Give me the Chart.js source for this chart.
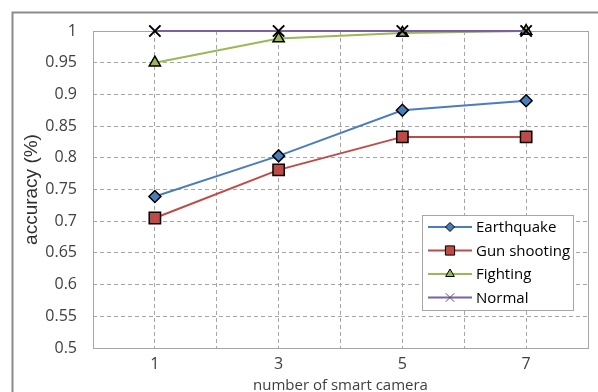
<!DOCTYPE html>
<html>
<head>
<meta charset="utf-8">
<script src="https://cdn.jsdelivr.net/npm/chart.js@4/dist/chart.umd.min.js"></script>
<style>
    html, body { margin: 0; padding: 0; background: #fff; overflow: hidden; }
    #wrap { position: relative; width: 598px; height: 392px; }
</style>
</head>
<body>
<div id="wrap"><canvas id="accuracy-chart"></canvas></div>
<script>
const cameraCounts = [1, 3, 5, 7];
const earthquake = [0.739, 0.803, 0.875, 0.89];
const gunShooting = [0.705, 0.781, 0.833, 0.833];
const fighting = [0.95, 0.988, 0.997, 1.0];
const normal = [1, 1, 1, 1];
const seriesNames = ['Earthquake', 'Gun shooting', 'Fighting', 'Normal'];
const yTickLabels = ['0.5', '0.55', '0.6', '0.65', '0.7', '0.75', '0.8', '0.85', '0.9', '0.95', '1'];

const FONT = "'Open Sans', 'Liberation Sans', sans-serif";

function toPoints(values) {
    return cameraCounts.map((c, i) => ({ x: c, y: values[i] }));
}

function series(label, values, color, style, radius, border, order) {
    return {
        label: label,
        data: toPoints(values),
        borderColor: color,
        borderWidth: 2,
        backgroundColor: color,
        pointStyle: style,
        pointRadius: radius,
        pointHoverRadius: radius,
        pointBackgroundColor: style === 'crossRot' ? '#000' : color,
        pointBorderColor: '#000',
        pointBorderWidth: border,
        tension: 0,
        fill: false,
        clip: false,
        order: order,
    };
}

// outer frame + plot border
const framePlugin = {
    id: 'frame',
    beforeDraw(chart) {
        const ctx = chart.ctx;
        ctx.save();
        ctx.strokeStyle = '#8c8c8c';
        ctx.lineWidth = 2;
        ctx.beginPath();
        ctx.moveTo(12.5, chart.height);
        ctx.lineTo(12.5, 12.5);
        ctx.lineTo(chart.width, 12.5);
        ctx.stroke();
        ctx.restore();
    },
    beforeDatasetsDraw(chart) {
        const a = chart.chartArea;
        const ctx = chart.ctx;
        ctx.save();
        ctx.strokeStyle = '#a6a6a6';
        ctx.lineWidth = 1;
        ctx.strokeRect(Math.round(a.left) + 0.5, Math.round(a.top) + 0.5,
            Math.round(a.right - a.left), Math.round(a.bottom - a.top));
        ctx.restore();
    }
};

// legend box inside the plot, like Excel
const boxLegend = {
    id: 'boxLegend',
    afterDraw(chart) {
        const ctx = chart.ctx;
        const x0 = 422, y0 = 215, w = 151, h = 95;
        ctx.save();
        ctx.fillStyle = '#fff';
        ctx.fillRect(x0, y0, w, h);
        ctx.strokeStyle = '#a6a6a6';
        ctx.lineWidth = 1;
        ctx.strokeRect(x0 + 0.5, y0 + 0.5, w, h);
        const sizes = [4.5, 6.5, 5, 6];
        chart.data.datasets.forEach((ds, i) => {
            const y = y0 + 12 + i * 23.5;
            ctx.strokeStyle = ds.borderColor;
            ctx.lineWidth = 2;
            ctx.beginPath();
            ctx.moveTo(x0 + 6, y);
            ctx.lineTo(x0 + 50, y);
            ctx.stroke();
            ctx.fillStyle = ds.pointBackgroundColor;
            ctx.strokeStyle = ds.pointStyle === 'crossRot' ? '#555' : '#000';
            ctx.lineWidth = 1;
            Chart.helpers.drawPoint(ctx, { pointStyle: ds.pointStyle, radius: sizes[i], rotation: 0, borderWidth: 1 }, x0 + 28, y);
            ctx.fillStyle = '#000';
            ctx.font = '15px ' + FONT;
            ctx.textBaseline = 'middle';
            ctx.textAlign = 'left';
            ctx.fillText(seriesNames[i], x0 + 54, y + 1);
        });
        ctx.restore();
    }
};

const ctx = document.getElementById('accuracy-chart').getContext('2d');

new Chart(ctx, {
    type: 'line',
    data: {
        datasets: [
            series(seriesNames[0], earthquake, '#4a7ebb', 'rectRot', 6, 1.5, 2),
            series(seriesNames[1], gunShooting, '#be4b48', 'rect', 8, 1.5, 2),
            series(seriesNames[2], fighting, '#98b954', 'triangle', 6.5, 1.5, 1),
            series(seriesNames[3], normal, '#7d60a0', 'crossRot', 8, 2, 0),
        ]
    },
    options: {
        responsive: true,
        maintainAspectRatio: false,
        animation: false,
        layout: { padding: { left: 16, top: 31, right: 5, bottom: 0 } },
        plugins: {
            legend: { display: false },
            tooltip: { enabled: false },
        },
        scales: {
            x: {
                type: 'linear',
                min: 0,
                max: 8,
                afterFit(scale) { scale.height = 44; },
                afterBuildTicks(scale) {
                    scale.ticks = [0, 1, 2, 3, 4, 5, 6, 7, 8].map(v => ({ value: v }));
                },
                grid: { color: '#a6a6a6', drawTicks: false },
                border: { display: false, dash: [4, 3] },
                ticks: {
                    color: '#404040',
                    font: { family: FONT, size: 16 },
                    padding: 7,
                    maxRotation: 0,
                    autoSkip: false,
                    callback: (value) => cameraCounts.includes(value) ? String(value) : '',
                },
                title: {
                    display: true,
                    text: 'number of smart camera',
                    color: '#404040',
                    font: { family: FONT, size: 15 },
                    padding: { top: 0, bottom: -3 },
                }
            },
            y: {
                min: 0.5,
                max: 1,
                afterFit(scale) { scale.width = 77; },
                grid: { color: '#a6a6a6', drawTicks: false },
                border: { display: false, dash: [4, 3] },
                ticks: {
                    stepSize: 0.05,
                    color: '#404040',
                    font: { family: FONT, size: 16 },
                    padding: 16,
                    callback: (value, index) => yTickLabels[index],
                },
                title: {
                    display: true,
                    text: 'accuracy (%)',
                    color: '#303030',
                    font: { family: "'Liberation Sans', Arial, sans-serif", size: 19 },
                }
            }
        }
    },
    plugins: [framePlugin, boxLegend],
});
</script>
</body>
</html>
